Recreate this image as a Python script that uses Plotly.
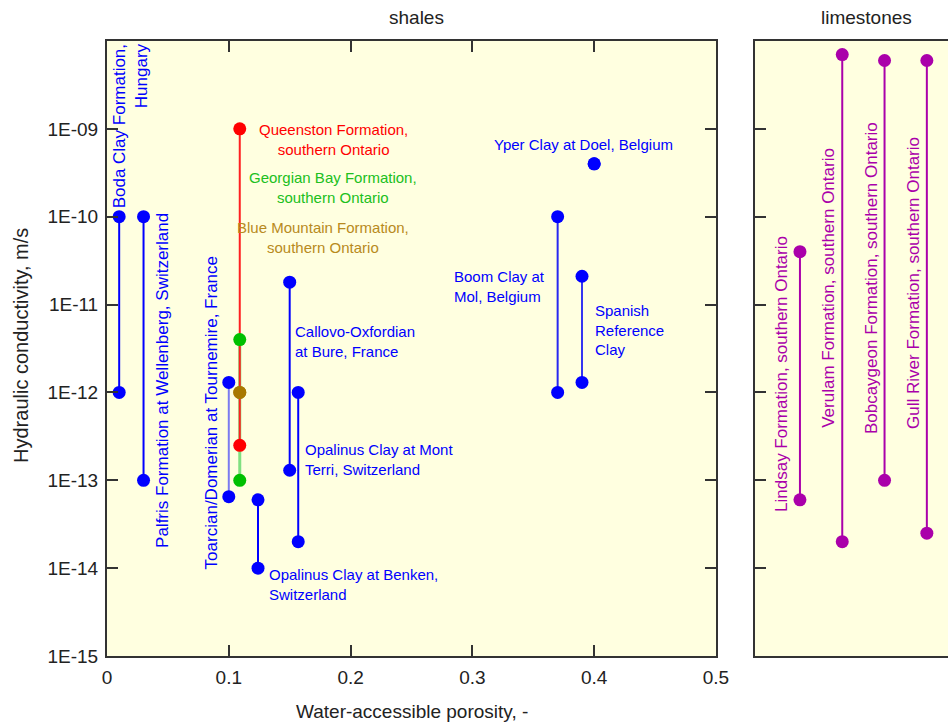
import plotly.graph_objects as go

# ---- data ----
shale_names = ["Boda Clay", "Palfris", "Toarcian", "Georgian Bay", "Queenston",
               "Blue Mountain", "Callovo-Oxfordian", "Opalinus Benken",
               "Opalinus Mont Terri", "Boom Clay", "Spanish Reference Clay", "Yper Clay"]
shale_porosity = [0.01, 0.03, 0.10, 0.109, 0.109, 0.109, 0.150, 0.124, 0.157, 0.37, 0.39, 0.40]
shale_k_high = [1e-10, 1e-10, 1.3e-12, 4e-12, 1e-9, 1e-12, 1.8e-11, 6e-14, 1e-12, 1e-10, 2.1e-11, 4e-10]
shale_k_low = [1e-12, 1e-13, 6.5e-14, 1e-13, 2.5e-13, 1e-12, 1.3e-13, 1e-14, 2e-14, 1e-12, 1.3e-12, 4e-10]
shale_marker_colors = ["#0000FF", "#0000FF", "#0000FF", "#00C000", "#FF0000", "#A87800",
                       "#0000FF", "#0000FF", "#0000FF", "#0000FF", "#0000FF", "#0000FF"]
shale_line_colors = ["#0000FF", "#0000FF", "#7B7BF0", "#80E080", "#FF2020", "#A87800",
                     "#0000FF", "#0000FF", "#0000FF", "#2828F0", "#3535F0", "#0000FF"]

lime_names = ["Lindsay Formation, southern Ontario", "Verulam Formation, southern Ontario",
              "Bobcaygeon Formation, southern Ontario", "Gull River Formation, southern Ontario"]
lime_pos = [1, 2, 3, 4]
lime_k_high = [4e-11, 7e-9, 6e-9, 6e-9]
lime_k_low = [6e-14, 2e-14, 1e-13, 2.5e-14]
lime_color = "#AA00AA"

x_tickvals = [0, 0.1, 0.2, 0.3, 0.4, 0.5]
x_ticktext = ["0", "0.1", "0.2", "0.3", "0.4", "0.5"]
y_tickvals = [1e-15, 1e-14, 1e-13, 1e-12, 1e-11, 1e-10, 1e-9]
y_ticktext = ["1E-15", "1E-14", "1E-13", "1E-12", "1E-11", "1E-10", "1E-09"]

FONT = "Liberation Sans, Arial, sans-serif"
AXC = "#333333"

fig = go.Figure()

# lines first
for i, n in enumerate(shale_names):
    w = 3 if n == "Georgian Bay" else 2
    fig.add_trace(go.Scatter(x=[shale_porosity[i], shale_porosity[i]],
                             y=[shale_k_low[i], shale_k_high[i]], mode="lines",
                             line=dict(color=shale_line_colors[i], width=w),
                             showlegend=False, hoverinfo="skip", xaxis="x", yaxis="y"))
for i, n in enumerate(shale_names):
    fig.add_trace(go.Scatter(x=[shale_porosity[i], shale_porosity[i]],
                             y=[shale_k_low[i], shale_k_high[i]], mode="markers",
                             marker=dict(color=shale_marker_colors[i], size=13),
                             name=n, showlegend=False, xaxis="x", yaxis="y"))
for i, n in enumerate(lime_names):
    fig.add_trace(go.Scatter(x=[lime_pos[i], lime_pos[i]],
                             y=[lime_k_low[i], lime_k_high[i]], mode="lines+markers",
                             line=dict(color=lime_color, width=2),
                             marker=dict(color=lime_color, size=13),
                             name=n, showlegend=False, xaxis="x2", yaxis="y2"))

ann = []
def A(text, x, y, color, xref="x", yref="y", angle=0, xanchor="center", yanchor="middle",
      align="center", size=15):
    ann.append(dict(text=text, x=x, y=y, xref=xref, yref=yref, textangle=angle,
                    xanchor=xanchor, yanchor=yanchor, align=align, showarrow=False,
                    font=dict(family=FONT, size=size, color=color)))

BLUE = "#0000FF"
RS = 17  # rotated label size
A("Boda Clay Formation,<br>Hungary", 0.019, -8.97, BLUE, angle=-90, align="right", size=RS)
A("Palfris Formation at Wellenberg, Switzerland", 0.045, -11.86, BLUE, angle=-90, size=RS)
A("Toarcian/Domerian at Tournemire, France", 0.086, -12.23, BLUE, angle=-90, size=RS)
A("Queenston Formation,<br>southern Ontario", 0.1856, -9.116, "#FF0000")
A("Georgian Bay Formation,<br>southern Ontario", 0.1856, -9.673, "#20C020")
A("Blue Mountain Formation,<br>southern Ontario", 0.177, -10.231, "#B88A20")
A("Callovo-Oxfordian<br>at Bure, France", 0.1527, -11.415, BLUE, xanchor="left", align="left")
A("Opalinus Clay at Mont<br>Terri, Switzerland", 0.161, -12.769, BLUE, xanchor="left", align="left")
A("Opalinus Clay at Benken,<br>Switzerland", 0.131, -14.19, BLUE, xanchor="left", align="left")
A("Yper Clay at Doel, Belgium", 0.3916, -9.173, BLUE)
A("Boom Clay at<br>Mol, Belgium", 0.283, -10.789, BLUE, xanchor="left", align="left")
A("Spanish<br>Reference<br>Clay", 0.399, -11.29, BLUE, xanchor="left", align="left")

A(lime_names[0], 0.575, -11.79, lime_color, xref="x2", yref="y2", angle=-90, size=RS)
A(lime_names[1], 1.685, -10.81, lime_color, xref="x2", yref="y2", angle=-90, size=RS)
A(lime_names[2], 2.677, -10.70, lime_color, xref="x2", yref="y2", angle=-90, size=RS)
A(lime_names[3], 3.67, -10.755, lime_color, xref="x2", yref="y2", angle=-90, size=RS)

A("shales", 0.3686, 1.0, "#222222", xref="paper", yref="paper", yanchor="bottom", size=19)
ann[-1]["yshift"] = 11
A("limestones", 0.9025, 1.0, "#222222", xref="paper", yref="paper", yanchor="bottom", size=19)
ann[-1]["yshift"] = 11
A("Hydraulic conductivity, m/s", -0.1023, 0.5057, "#222222", xref="paper", yref="paper",
  angle=-90, size=20)
A("Water-accessible porosity, -", 0.3627, -0.091, "#222222", xref="paper", yref="paper", size=19)

common = dict(showgrid=False, zeroline=False, showline=True, linecolor=AXC, linewidth=2,
              ticks="inside", ticklen=11, tickwidth=1.5, tickcolor=AXC, automargin=False,
              ticklabelstandoff=3,
              tickfont=dict(family=FONT, size=19, color="#222222"))

fig.update_layout(
    template="none",
    width=948, height=726,
    margin=dict(l=107, r=0, t=41, b=70, pad=0, autoexpand=False),
    paper_bgcolor="white", plot_bgcolor="#FFFFE0",
    showlegend=False,
    annotations=ann,
    xaxis=dict(domain=[0, 0.7241], range=[0, 0.5], tickvals=x_tickvals, ticktext=x_ticktext,
               mirror="ticks", anchor="y", **common),
    yaxis=dict(type="log", range=[-15, -8], tickvals=y_tickvals, ticktext=y_ticktext,
               mirror="ticks", anchor="x", **common),
    xaxis2=dict(domain=[0.7705, 1], range=[-0.063, 4.5], anchor="y2", mirror=True,
                showgrid=False, zeroline=False, showline=True, linecolor=AXC, linewidth=2,
                ticks="", showticklabels=False, automargin=False),
    yaxis2=dict(type="log", range=[-15, -8], anchor="x2", tickvals=y_tickvals,
                showticklabels=False, mirror=False, automargin=False,
                showgrid=False, zeroline=False, showline=True, linecolor=AXC, linewidth=2,
                ticks="inside", ticklen=11, tickwidth=1.5, tickcolor=AXC),
)

fig.write_html("out.html", config={"displayModeBar": False, "responsive": False},
               post_script="document.body.style.margin='0';document.body.style.overflow='hidden';")
